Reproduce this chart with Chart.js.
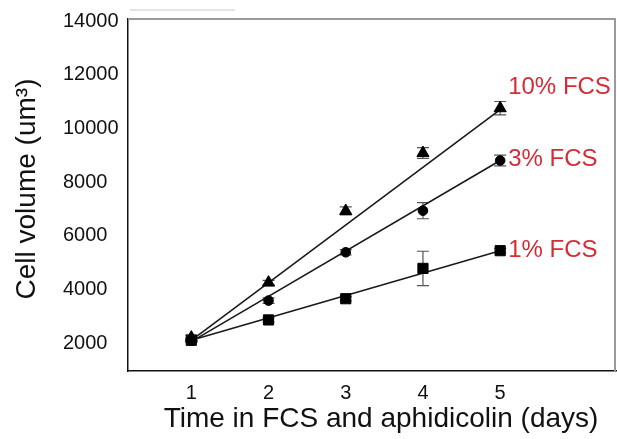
<!DOCTYPE html>
<html>
<head>
<meta charset="utf-8">
<script src="https://cdn.jsdelivr.net/npm/chart.js@4.4.1/dist/chart.umd.min.js"></script>
<style>
    html, body { margin: 0; padding: 0; background: #fff; }
</style>
</head>
<body>
<canvas id="chart" width="617" height="439"></canvas>
<script>
    // values
    const days = [1, 2, 3, 4, 5];
    const dayTicks = [1, 2, 3, 4, 5];
    const volumeTicks = [2000, 4000, 6000, 8000, 10000, 12000, 14000];
    const seriesNames = ['10% FCS', '3% FCS', '1% FCS'];

    const fcs10 = [2200, 4250, 6920, 9080, 10750];
    const fcs10Err = [100, 80, 150, 200, 250];
    const fcs3 = [2100, 3580, 5380, 6930, 8800];
    const fcs3Err = [80, 100, 100, 300, 200];
    const fcs1 = [2100, 2860, 3650, 4780, 5440];
    const fcs1Err = [60, 80, 80, 640, 80];

    // straight fitted lines, day 1 to day 5
    const fitDays = [1, 5];
    const fit10 = [2100, 10700];
    const fit3 = [2050, 8800];
    const fit1 = [2100, 5440];

    const FONT = '"Liberation Sans", Arial, sans-serif';
    const RED = '#d62b36';

    function toPoints(xs, ys) {
        return xs.map((x, i) => ({ x: x, y: ys[i] }));
    }

    function fitDataset(values) {
        return {
            type: 'line',
            data: toPoints(fitDays, values),
            borderColor: '#1a1a1a',
            borderWidth: 1.6,
            pointRadius: 0,
            fill: false,
            order: 2
        };
    }

    function markerDataset(values, errors, style, radius) {
        return {
            type: 'scatter',
            data: toPoints(days, values),
            errors: errors,
            pointStyle: style,
            pointRadius: radius,
            backgroundColor: '#000',
            borderColor: '#000',
            borderWidth: 1,
            showLine: false,
            order: 1
        };
    }

    // error bars, drawn under the markers
    const errorBars = {
        id: 'errorBars',
        beforeDatasetsDraw(chart) {
            const ctx = chart.ctx;
            const xs = chart.scales.x;
            const ys = chart.scales.y;
            ctx.save();
            ctx.strokeStyle = '#555';
            ctx.lineWidth = 1.2;
            chart.data.datasets.forEach(ds => {
                if (!ds.errors) return;
                ds.data.forEach((p, i) => {
                    const px = xs.getPixelForValue(p.x);
                    const top = ys.getPixelForValue(p.y + ds.errors[i]);
                    const bot = ys.getPixelForValue(p.y - ds.errors[i]);
                    ctx.beginPath();
                    ctx.moveTo(px, top); ctx.lineTo(px, bot);
                    ctx.moveTo(px - 6, top); ctx.lineTo(px + 6, top);
                    ctx.moveTo(px - 6, bot); ctx.lineTo(px + 6, bot);
                    ctx.stroke();
                });
            });
            ctx.restore();
        }
    };

    // frame, axis titles and the red series labels
    const decorations = {
        id: 'decorations',
        afterDraw(chart) {
            const ctx = chart.ctx;
            const area = chart.chartArea;
            const xs = chart.scales.x;
            const ys = chart.scales.y;
            ctx.save();

            ctx.strokeStyle = '#9a9a9a';
            ctx.lineWidth = 2;
            ctx.beginPath();
            ctx.moveTo(area.left, area.top); ctx.lineTo(area.right - 1, area.top);
            ctx.lineTo(area.right - 1, area.bottom);
            ctx.stroke();
            ctx.strokeStyle = '#c8c8c8';
            ctx.lineWidth = 1;
            ctx.beginPath();
            ctx.moveTo(area.left + 2, area.top - 9); ctx.lineTo(area.left + 107, area.top - 9);
            ctx.stroke();

            ctx.fillStyle = '#111';
            ctx.font = '28px ' + FONT;
            ctx.textAlign = 'center';
            ctx.textBaseline = 'middle';
            ctx.fillText('Time in FCS and aphidicolin (days)', 381, 419);

            ctx.translate(27, 189);
            ctx.rotate(-Math.PI / 2);
            ctx.fillText('Cell volume (um\u00b3)', 0, 0);
            ctx.setTransform(1, 0, 0, 1, 0, 0);

            ctx.fillStyle = RED;
            ctx.font = '24px ' + FONT;
            ctx.textAlign = 'left';
            const lastVals = [fcs10[4], fcs3[4], fcs1[4]];
            const lift = [21, 1, 0];
            seriesNames.forEach((name, i) => {
                const px = xs.getPixelForValue(days[4]) + 8;
                const py = ys.getPixelForValue(lastVals[i]) - lift[i];
                ctx.fillText(name, px, py);
            });
            ctx.restore();
        }
    };

    document.addEventListener('DOMContentLoaded', function() {
        const ctx = document.getElementById('chart').getContext('2d');
        new Chart(ctx, {
            data: {
                datasets: [
                    fitDataset(fit10),
                    fitDataset(fit3),
                    fitDataset(fit1),
                    markerDataset(fcs10, fcs10Err, 'triangle', 7),
                    markerDataset(fcs3, fcs3Err, 'circle', 4.8),
                    markerDataset(fcs1, fcs1Err, 'rect', 7.2)
                ]
            },
            options: {
                responsive: false,
                animation: false,
                layout: {
                    autoPadding: false,
                    padding: { top: 19, left: 63, right: 1, bottom: 0 }
                },
                plugins: {
                    legend: { display: false },
                    tooltip: { enabled: false }
                },
                scales: {
                    x: {
                        type: 'linear',
                        min: 0.18,
                        max: 6.5,
                        afterBuildTicks: scale => { scale.ticks = dayTicks.map(v => ({ value: v })); },
                        afterFit: scale => {
                            scale.height = 68;
                            scale.paddingLeft = 0;
                            scale.paddingRight = 0;
                        },
                        grid: { display: false, drawTicks: false },
                        border: { display: true, color: '#111', width: 1.5 },
                        ticks: {
                            padding: 10,
                            color: '#111',
                            font: { family: FONT, size: 20 },
                            maxRotation: 0
                        }
                    },
                    y: {
                        type: 'linear',
                        min: 956,
                        max: 14075,
                        afterBuildTicks: scale => { scale.ticks = volumeTicks.map(v => ({ value: v })); },
                        afterFit: scale => { scale.width = 65; },
                        grid: { display: false, drawTicks: false },
                        border: { display: true, color: '#111', width: 1.5 },
                        ticks: {
                            crossAlign: 'far',
                            color: '#111',
                            font: { family: FONT, size: 20 },
                            callback: v => String(v)
                        }
                    }
                }
            },
            plugins: [errorBars, decorations]
        });
    });
</script>
</body>
</html>
